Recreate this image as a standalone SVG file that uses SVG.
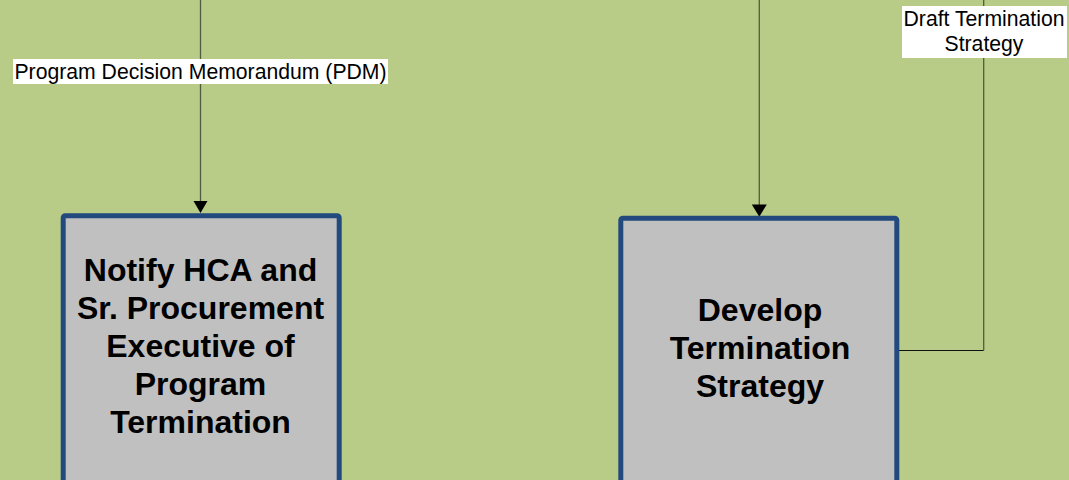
<svg xmlns="http://www.w3.org/2000/svg" width="1069" height="480" viewBox="0 0 1069 480">
<style>
.bg{fill:#b8cb87}
.box{fill:#c0c0c0;stroke:#224a7e;stroke-width:5}
.t{font-family:"Liberation Sans",Arial,sans-serif;font-weight:bold;font-size:32px;fill:#000;text-anchor:middle}
.lbl{font-family:"Liberation Sans",Arial,sans-serif;font-size:21.2px;fill:#000;text-anchor:middle}
.lblbg{fill:#ffffff}
.c{fill:none;stroke:#4f5c40;stroke-width:1.3}
.ch{fill:none;stroke:#111;stroke-width:1}
</style>
<rect class="bg" x="0" y="0" width="1069" height="480"/>
<g id="connectors">
<line class="c" x1="200.5" y1="0" x2="200.5" y2="201"/>
<path d="M193.5,201 L207.5,201 L200.5,213 Z" fill="#000"/>
<line class="c" x1="759.3" y1="0" x2="759.3" y2="205"/>
<path d="M751.8,204.5 L766.8,204.5 L759.3,216.7 Z" fill="#000"/>
<path class="ch" d="M899,350.5 H983.7"/>
<line class="c" x1="983.7" y1="0" x2="983.7" y2="350.5"/>
</g>
<g id="label-pdm">
<rect class="lblbg" x="13" y="59" width="375" height="25"/>
<text class="lbl" x="200.5" y="79">Program Decision Memorandum (PDM)</text>
</g>
<g id="label-draft">
<rect class="lblbg" x="902" y="6" width="165" height="52"/>
<text class="lbl" x="984" y="26">Draft Termination</text>
<text class="lbl" x="984" y="51">Strategy</text>
</g>
<g id="node-notify">
<rect class="box" x="63.2" y="215.8" width="276" height="300" rx="2"/>
<text class="t" x="200.5" y="281">Notify HCA and</text>
<text class="t" x="200.5" y="319">Sr. Procurement</text>
<text class="t" x="200.5" y="357">Executive of</text>
<text class="t" x="200.5" y="395">Program</text>
<text class="t" x="200.5" y="433">Termination</text>
</g>
<g id="node-develop">
<rect class="box" x="620.8" y="218.2" width="276" height="300" rx="2"/>
<text class="t" x="760" y="321">Develop</text>
<text class="t" x="760" y="359">Termination</text>
<text class="t" x="760" y="397">Strategy</text>
</g>
</svg>
